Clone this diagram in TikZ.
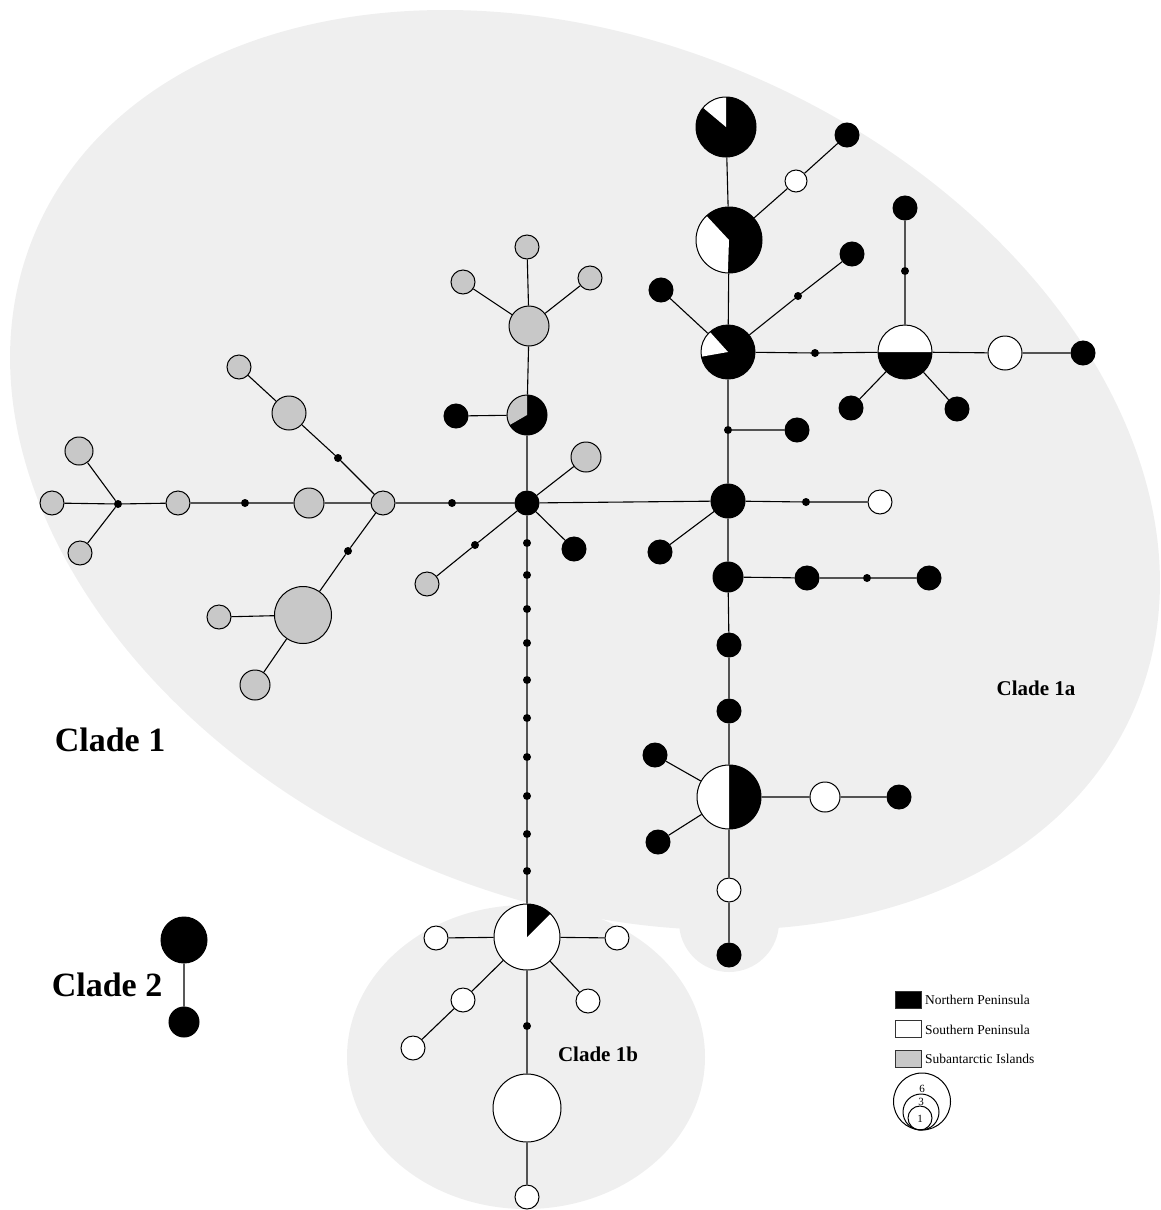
\documentclass[tikz,border=0pt]{standalone}
\usepackage{fontspec}
\setmainfont{Liberation Serif}
\definecolor{bgc}{HTML}{EFEFEF}
\definecolor{grayf}{HTML}{C8C8C8}
\begin{document}
\begin{tikzpicture}[x=1pt,y=-1pt,
  hap/.style={circle, draw=black, line width=1pt, inner sep=0pt},
  nb/.style={hap, fill=black, minimum size=#1pt},
  nw/.style={hap, fill=white, minimum size=#1pt},
  ng/.style={hap, fill=grayf, minimum size=#1pt},
  med/.style={circle, fill=black, inner sep=0pt, minimum size=8pt},
  slice/.style n args={3}{path picture={\fill[#1] (path picture bounding box.center) -- ++(#2:60pt) arc[start angle=#2, end angle=#3, radius=60pt] -- cycle;}},
  edge/.style={draw=black, line width=1.1pt},
  clade/.style={font=\bfseries\fontsize{34}{40}\selectfont},
  subclade/.style={font=\bfseries\fontsize{21}{25}\selectfont},
  legtxt/.style={anchor=west, font=\fontsize{13.5}{15}\selectfont, inner sep=0pt},
  legbox/.style={draw=black!80, line width=1.2pt, minimum width=26pt, minimum height=17pt, inner sep=0pt},
  legcirc/.style={circle, draw=black, line width=1pt, inner sep=0pt, minimum size=#1pt},
  legnum/.style={font=\fontsize{11}{12}\selectfont, inner sep=0pt}
]
\useasboundingbox (0,0) rectangle (1160,1210);
\clip (0,0) rectangle (1160,1210);
% background clades
\fill[bgc, rotate around={-23.7:(585,470)}] (585,470) ellipse [x radius=599pt, y radius=428pt];
\fill[bgc] (729,922) circle [radius=50pt];
\fill[bgc] (526,1057) ellipse [x radius=179pt, y radius=152pt];

% ---- left part
\node[ng=24] (g1) at (52,503) {};
\node[med] (m1) at (118,504) {};
\node[ng=28] (g2) at (79,451) {};
\node[ng=24] (g3) at (80,553) {};
\node[ng=24] (g4) at (178,503) {};
\node[med] (m2) at (245,503) {};
\node[ng=30] (g5) at (309,503) {};
\node[ng=24] (g6) at (383,503) {};
\node[med] (m3) at (452,503) {};
\node[ng=24] (g7) at (239,367) {};
\node[ng=34] (g8) at (289,413) {};
\node[med] (m4) at (338,458) {};
\node[med] (m5) at (348,551) {};
\node[ng=57] (g9) at (303,615) {};
\node[ng=24] (g10) at (219,617) {};
\node[ng=30] (g11) at (255,685) {};

% ---- centre
\node[nb=24] (hub) at (527,503) {};
\node[nb=40, slice={grayf}{90}{210}] (p5) at (527,415) {};
\node[nb=24] (b1) at (456,416) {};
\node[ng=40] (g12) at (529,326) {};
\node[ng=24] (g13) at (527,247) {};
\node[ng=24] (g14) at (463,282) {};
\node[ng=24] (g15) at (590,278) {};
\node[ng=30] (g16) at (586,457) {};
\node[nb=24] (b2) at (574,549) {};
\node[med] (m6) at (475,545) {};
\node[ng=24] (g17) at (427,584) {};
\foreach \i/\y in {1/543,2/575,3/609,4/643,5/680,6/718,7/757,8/796,9/834,10/871}
  \node[med] (d\i) at (527,\y) {};

% ---- clade 1b
\node[nw=66, slice={black}{45}{90}] (p7) at (527,937) {};
\node[nw=24] (w1) at (436,938) {};
\node[nw=24] (w2) at (617,938) {};
\node[nw=24] (w3) at (463,1000) {};
\node[nw=24] (w4) at (413,1048) {};
\node[nw=24] (w5) at (588,1001) {};
\node[med] (m7) at (527,1026) {};
\node[nw=68] (w6) at (527,1108) {};
\node[nw=24] (w7) at (527,1197) {};

% ---- clade 1a
\node[nb=34] (b3) at (728,501) {};
\node[med] (m8) at (806,502) {};
\node[nw=24] (w8) at (880,502) {};
\node[nb=24] (b4) at (660,552) {};
\node[med] (m9) at (728,430) {};
\node[nb=24] (b5) at (797,430) {};
\node[nb=54, slice={white}{132}{190}] (p3) at (728,352) {};
\node[nb=66, slice={white}{133}{268}] (p2) at (729,240) {};
\node[nb=60, slice={white}{90}{140}] (p1) at (726,127) {};
\node[nw=22] (w9) at (796,181) {};
\node[nb=24] (b6) at (847,135) {};
\node[nb=24] (b7) at (661,290) {};
\node[med] (m10) at (798,296) {};
\node[nb=24] (b8) at (852,254) {};
\node[med] (m11) at (815,353) {};
\node[nb=54, slice={white}{0}{180}] (p4) at (905,352) {};
\node[med] (m12) at (905,271) {};
\node[nb=24] (b9) at (905,208) {};
\node[nw=34] (w10) at (1005,353) {};
\node[nb=24] (b10) at (1083,353) {};
\node[nb=24] (b11) at (851,408) {};
\node[nb=24] (b12) at (957,409) {};
\node[nb=30] (b13) at (728,577) {};
\node[nb=24] (b14) at (807,578) {};
\node[med] (m13) at (867,578) {};
\node[nb=24] (b15) at (929,578) {};
\node[nb=24] (b16) at (729,645) {};
\node[nb=24] (b17) at (729,711) {};
\node[nb=64, slice={white}{90}{270}] (p6) at (729,797) {};
\node[nb=24] (b18) at (655,755) {};
\node[nb=24] (b19) at (658,842) {};
\node[nw=30] (w11) at (825,797) {};
\node[nb=24] (b20) at (899,797) {};
\node[nw=24] (w12) at (729,890) {};
\node[nb=24] (b21) at (729,955) {};

% ---- clade 2
\node[nb=46] (c1) at (184,940) {};
\node[nb=30] (c2) at (184,1022) {};

% ---- connectors
\path[edge] (g1)--(m1) (g2)--(m1) (g3)--(m1) (m1)--(g4) (g4)--(m2) (m2)--(g5) (g5)--(g6) (g6)--(m3) (m3)--(hub)
  (g7)--(g8) (g8)--(m4) (m4)--(g6) (g6)--(m5) (m5)--(g9) (g9)--(g10) (g9)--(g11)
  (hub)--(p5) (p5)--(b1) (p5)--(g12) (g12)--(g13) (g12)--(g14) (g12)--(g15)
  (hub)--(g16) (hub)--(b2) (hub)--(m6) (m6)--(g17)
  (hub)--(d1) (d1)--(d2) (d2)--(d3) (d3)--(d4) (d4)--(d5) (d5)--(d6) (d6)--(d7) (d7)--(d8) (d8)--(d9) (d9)--(d10) (d10)--(p7)
  (p7)--(w1) (p7)--(w2) (p7)--(w3) (w3)--(w4) (p7)--(w5) (p7)--(m7) (m7)--(w6) (w6)--(w7)
  (hub)--(b3) (b3)--(m8) (m8)--(w8) (b3)--(b4) (b3)--(m9) (m9)--(p3) (m9)--(b5)
  (p3)--(p2) (p2)--(p1) (p2)--(w9) (w9)--(b6) (p3)--(b7) (p3)--(m10) (m10)--(b8)
  (p3)--(m11) (m11)--(p4) (p4)--(m12) (m12)--(b9) (p4)--(w10) (w10)--(b10) (p4)--(b11) (p4)--(b12)
  (b3)--(b13) (b13)--(b14) (b14)--(m13) (m13)--(b15) (b13)--(b16) (b16)--(b17) (b17)--(p6)
  (p6)--(b18) (p6)--(b19) (p6)--(w11) (w11)--(b20) (p6)--(w12) (w12)--(b21)
  (c1)--(c2);

% ---- labels
\node[clade] (lab1) at (110,740) {Clade 1};
\node[clade] (lab2) at (107,985) {Clade 2};
\node[subclade] (lab1a) at (1036,688) {Clade 1a};
\node[subclade] (lab1b) at (598,1054) {Clade 1b};

% ---- legend
\node[legbox, fill=black] (k1) at (908.5,1000) {};
\node[legbox, fill=white] (k2) at (908.5,1029) {};
\node[legbox, fill=grayf] (k3) at (908.5,1059) {};
\node[legtxt] (t1) at (925,1000) {Northern Peninsula};
\node[legtxt] (t2) at (925,1030) {Southern Peninsula};
\node[legtxt] (t3) at (925,1059) {Subantarctic Islands};
\node[legcirc=57] (s6) at (922,1101.5) {};
\node[legcirc=36] (s3) at (921,1112) {};
\node[legcirc=24] (s1) at (920,1118) {};
\node[legnum] (n6) at (922,1089) {6};
\node[legnum] (n3) at (921,1102) {3};
\node[legnum] (n1) at (920,1119) {1};
\end{tikzpicture}
\end{document}
